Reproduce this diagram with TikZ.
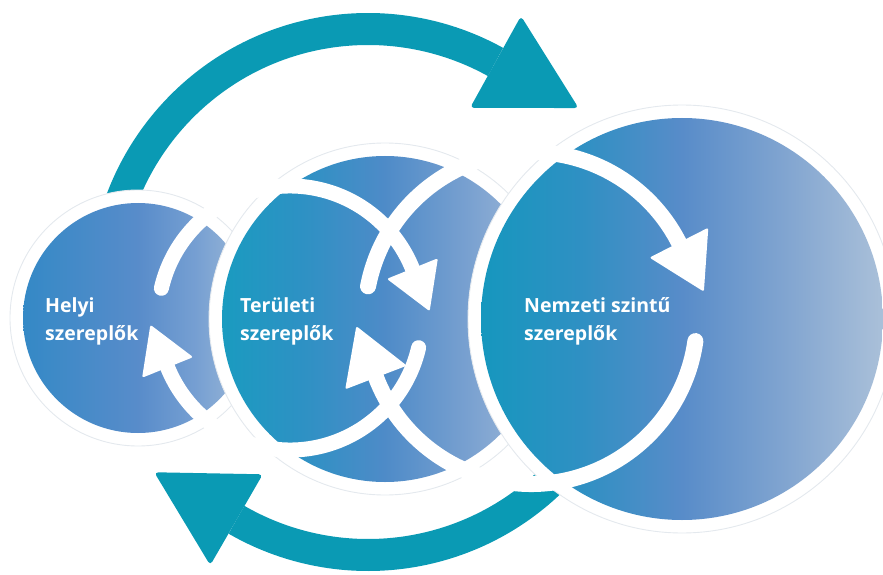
\documentclass[tikz,border=0pt]{standalone}
\usepackage{fontspec}
\setmainfont{Open Sans}
\usetikzlibrary{calc}
\definecolor{tealarrow}{HTML}{0A9AB4}
\definecolor{rimgray}{HTML}{E4E9EE}
\pgfdeclarehorizontalshading{discA}{100bp}{color(0bp)=(rgb,255:red,52;green,137;blue,198); color(25bp)=(rgb,255:red,52;green,137;blue,198); color(50bp)=(rgb,255:red,88;green,140;blue,202); color(62.5bp)=(rgb,255:red,118;green,159;blue,210); color(75bp)=(rgb,255:red,160;green,187;blue,216); color(100bp)=(rgb,255:red,160;green,187;blue,216)}
\pgfdeclarehorizontalshading{discB}{100bp}{color(0bp)=(rgb,255:red,26;green,155;blue,192); color(25bp)=(rgb,255:red,26;green,155;blue,192); color(37.5bp)=(rgb,255:red,46;green,145;blue,196); color(50bp)=(rgb,255:red,78;green,139;blue,200); color(62.5bp)=(rgb,255:red,120;green,160;blue,208); color(75bp)=(rgb,255:red,165;green,188;blue,217); color(100bp)=(rgb,255:red,165;green,188;blue,217)}
\pgfdeclarehorizontalshading{discC}{100bp}{color(0bp)=(rgb,255:red,22;green,151;blue,190); color(25bp)=(rgb,255:red,22;green,151;blue,190); color(37.5bp)=(rgb,255:red,47;green,144;blue,195); color(50bp)=(rgb,255:red,88;green,140;blue,201); color(62.5bp)=(rgb,255:red,128;green,164;blue,208); color(75bp)=(rgb,255:red,170;green,192;blue,217); color(100bp)=(rgb,255:red,170;green,192;blue,217)}
\begin{document}
\begin{tikzpicture}[x=1pt,y=1pt,
  rim/.style={fill=white, draw=rimgray, line width=0.9pt},
  lbl/.style={text=white, font=\bfseries\fontsize{19.5}{27.5}\selectfont, align=left, inner sep=0pt},
  tealband/.style={draw=tealarrow, line width=32pt},
  whiteband/.style={draw=white, line width=#1, line cap=round}]
\useasboundingbox (0,0) rectangle (883,574);
\clip (0,0) rectangle (883,574);
% centres
\coordinate (ct) at (368,282);
\coordinate (c1) at (138,256);
\coordinate (c2) at (385,255);
\coordinate (c3) at (682,255);
\coordinate (r2) at (290,256);
\coordinate (r3) at (531,256);
% big teal cycle arrows
\draw[tealband] ($(ct)+(185:263)$) arc[start angle=185, end angle=61, radius=263];
\fill[tealarrow, rounded corners=4pt] ($(ct)+(61:315.5)$) -- ($(ct)+(61:263)+(-29:95)$) -- ($(ct)+(61:210.5)$) -- cycle;
\draw[tealband] ($(ct)+(345:263)$) arc[start angle=345, end angle=240, radius=263];
\fill[tealarrow, rounded corners=4pt] ($(ct)+(240:315.5)$) -- ($(ct)+(240:263)+(150:95)$) -- ($(ct)+(240:210.5)$) -- cycle;
% discs
\filldraw[rim] (c1) circle[radius=128];
\shade[shading=discA] (c1) circle[radius=115];
\filldraw[rim] (c2) circle[radius=176];
\shade[shading=discB] (c2) circle[radius=163];
\filldraw[rim] (c3) circle[radius=214];
\shade[shading=discC] (c3) circle[radius=201];
% white cycle ring of the middle unit
\draw[whiteband=15pt] ($(r2)+(167:132)$) arc[start angle=167, end angle=22, radius=132];
\fill[white, rounded corners=2pt] ($(r2)+(22:159.5)$) -- ($(r2)+(22:132)+(-68:46)$) -- ($(r2)+(22:104.5)$) -- cycle;
\draw[whiteband=15pt] ($(r2)+(347:132)$) arc[start angle=347, end angle=202, radius=132];
\fill[white, rounded corners=2pt] ($(r2)+(202:159.5)$) -- ($(r2)+(202:132)+(112:46)$) -- ($(r2)+(202:104.5)$) -- cycle;
% white cycle ring of the large unit
\draw[whiteband=16pt] ($(r3)+(169:166)$) arc[start angle=169, end angle=27, radius=166];
\fill[white, rounded corners=2pt] ($(r3)+(27:199)$) -- ($(r3)+(27:166)+(-63:55)$) -- ($(r3)+(27:133)$) -- cycle;
\draw[whiteband=16pt] ($(r3)+(352:166)$) arc[start angle=352, end angle=201, radius=166];
\fill[white, rounded corners=2pt] ($(r3)+(201:199)$) -- ($(r3)+(201:166)+(111:55)$) -- ($(r3)+(201:133)$) -- cycle;
% labels
\node[lbl, anchor=base west] (t1) at (45,234) {Helyi\\szereplők};
\node[lbl, anchor=base west] (t2) at (240,234) {Területi\\szereplők};
\node[lbl, anchor=base west] (t3) at (524,234) {Nemzeti szintű\\szereplők};
\end{tikzpicture}
\end{document}
